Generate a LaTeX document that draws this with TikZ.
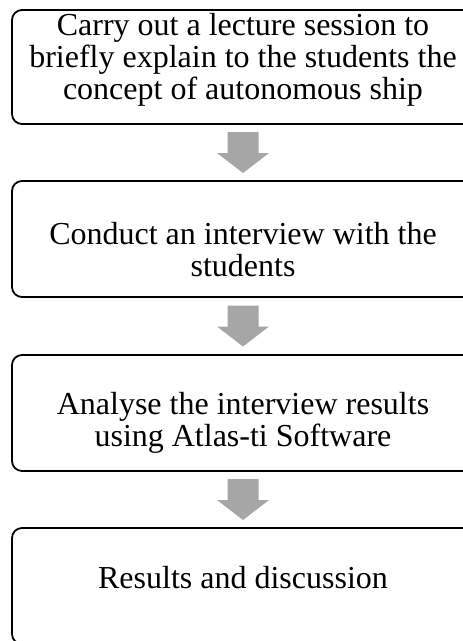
\documentclass[tikz,border=0pt]{standalone}
\usepackage{fontspec}
\setmainfont{Liberation Serif}
\usetikzlibrary{calc}
\definecolor{arrowgray}{RGB}{166,166,166}
\tikzset{
  stepbox/.style={draw, line width=1.8pt, rounded corners=10pt,
    minimum width=462pt, minimum height=116pt},
  steptext/.style={align=center, font=\fontsize{32}{32}\selectfont},
  blockarrow/.style={fill=arrowgray, draw=none}
}
\begin{document}
\begin{tikzpicture}[x=1pt,y=-1pt]
\useasboundingbox (0,0) rectangle (463,641);
\node[stepbox, minimum height=114pt] (s1) at (243,67) {};
\node[stepbox] (s2) at (243,239) {};
\node[stepbox] (s3) at (243,413) {};
\node[stepbox] (s4) at (243,586) {};
% texts of the steps
\node[steptext] (t1) at ($(s1)+(0,-7)$) {Carry out a lecture session to\\briefly explain to the students the\\concept of autonomous ship};
\node[steptext] (t2) at ($(s2)+(0,11)$) {Conduct an interview with the\\students};
\node[steptext] (t3) at ($(s3)+(0,10)$) {Analyse the interview results\\using Atlas-ti Software};
\node[steptext] (t4) at ($(s4)+(0,-8)$) {Results and discussion};
% arrows between the steps
\foreach \a/\b in {s1/s2,s2/s3,s3/s4} {
\coordinate (m) at ($(\a.south)!0.5!(\b.north)$);
\fill[blockarrow] ($(m)+(-15.5,-20.5)$) -- ($(m)+(15.5,-20.5)$) -- ($(m)+(15.5,0.5)$) -- ($(m)+(26,0.5)$)
  -- ($(m)+(0,20.5)$) -- ($(m)+(-26,0.5)$) -- ($(m)+(-15.5,0.5)$) -- cycle;
}
\end{tikzpicture}
\end{document}
